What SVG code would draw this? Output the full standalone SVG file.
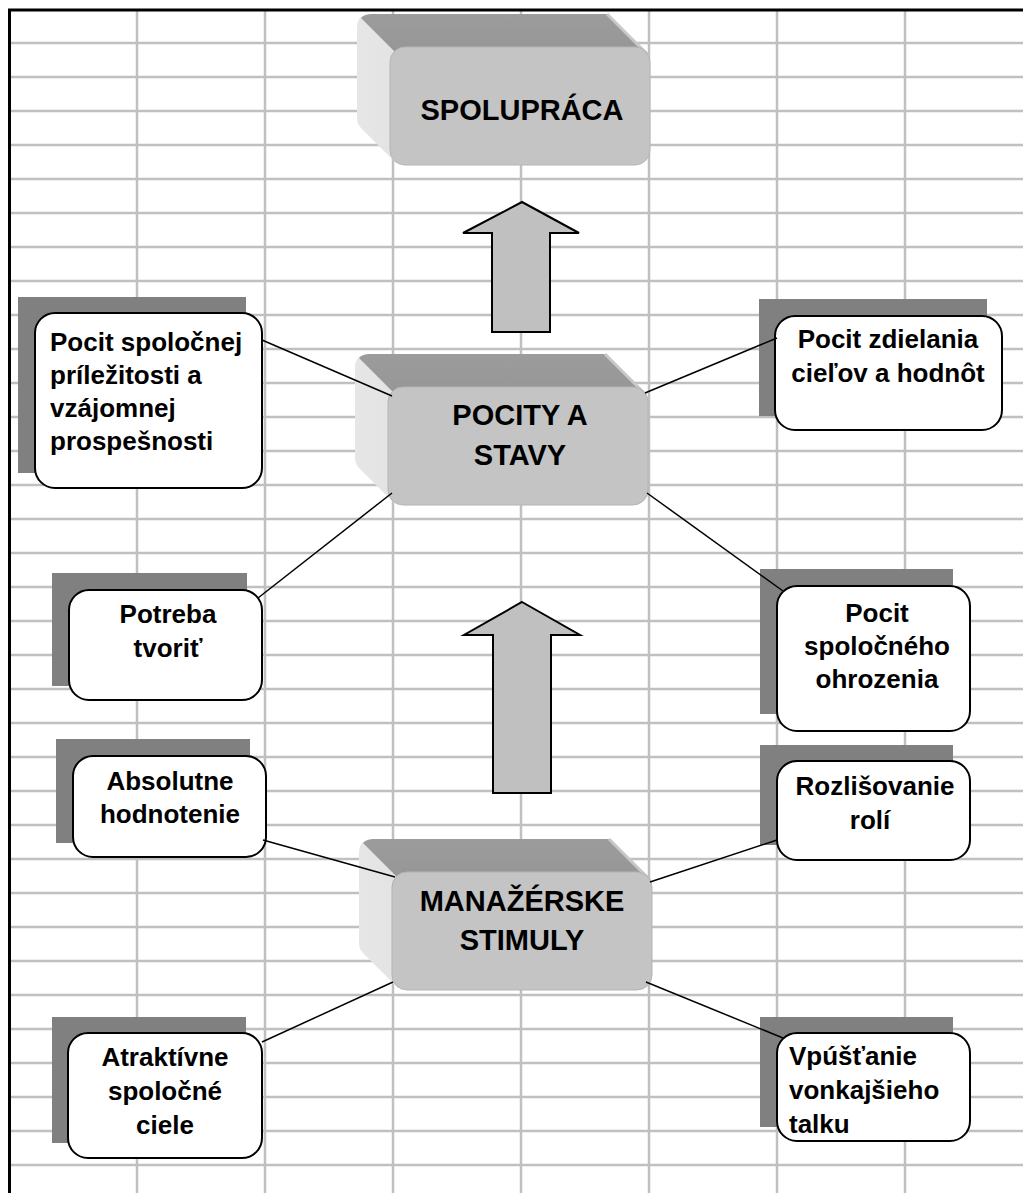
<svg xmlns="http://www.w3.org/2000/svg" xmlns:xlink="http://www.w3.org/1999/xlink" width="1023" height="1193" viewBox="0 0 1023 1193">
  <style>
    .grid line { stroke: #c0c0c0; stroke-width: 2.5; }
    .frame { stroke: #000; stroke-width: 3; fill: none; }
    .title { font-family: "Liberation Sans", Arial, sans-serif; font-weight: bold; font-size: 29px; fill: #000; text-anchor: middle; }
    .label { font-family: "Liberation Sans", Arial, sans-serif; font-weight: bold; font-size: 26px; fill: #000; }
    .mid { text-anchor: middle; }
    .card { fill: #fff; stroke: #000; stroke-width: 2; }
    .shadow { fill: #808080; }
    .link { stroke: #000; stroke-width: 1.5; fill: none; }
    .arrow { fill: #c0c0c0; stroke: #000; stroke-width: 2; stroke-linejoin: miter; }
  </style>
  <defs>
    <linearGradient id="sideGrad" x1="0" y1="0" x2="1" y2="0">
      <stop offset="0" stop-color="#e6e6e6"/>
      <stop offset="0.7" stop-color="#d8d8d8"/>
      <stop offset="1" stop-color="#c8c8c8"/>
    </linearGradient>
    <linearGradient id="topGrad" x1="0" y1="0" x2="0" y2="1">
      <stop offset="0" stop-color="#9c9c9c"/>
      <stop offset="1" stop-color="#969696"/>
    </linearGradient>
    <!-- extruded block: front face 260x118 at origin, depth 33 up-left -->
    <g id="block">
      <path d="M -33,-19 Q -33,-33 -19,-33 L 217,-33 L 258,6 L 258,110 L 6,116 L -29,81 Q -33,77 -33,71 Z" fill="url(#sideGrad)"/>
      <path d="M -29,-29 Q -26,-32.5 -19,-33 L 217,-33 L 256,6 L 6,6 Z" fill="url(#topGrad)"/>
      <path d="M 217,-33 L 258,8" stroke="#c8c8c8" stroke-width="3" fill="none"/>
      <rect x="0" y="0" width="260" height="118" rx="15" fill="#c4c4c4" stroke="#b4b4b4" stroke-width="1"/>
    </g>
  </defs>

  <rect width="1023" height="1193" fill="#fff"/>

  <!-- sheet grid -->
  <g class="grid">
    <line x1="137" y1="10" x2="137" y2="1193"/>
    <line x1="265" y1="10" x2="265" y2="1193"/>
    <line x1="393" y1="10" x2="393" y2="1193"/>
    <line x1="521" y1="10" x2="521" y2="1193"/>
    <line x1="649" y1="10" x2="649" y2="1193"/>
    <line x1="777" y1="10" x2="777" y2="1193"/>
    <line x1="905" y1="10" x2="905" y2="1193"/>
    <line x1="9" y1="43" x2="1023" y2="43"/>
    <line x1="9" y1="77" x2="1023" y2="77"/>
    <line x1="9" y1="111" x2="1023" y2="111"/>
    <line x1="9" y1="145" x2="1023" y2="145"/>
    <line x1="9" y1="179" x2="1023" y2="179"/>
    <line x1="9" y1="213" x2="1023" y2="213"/>
    <line x1="9" y1="247" x2="1023" y2="247"/>
    <line x1="9" y1="281" x2="1023" y2="281"/>
    <line x1="9" y1="315" x2="1023" y2="315"/>
    <line x1="9" y1="349" x2="1023" y2="349"/>
    <line x1="9" y1="383" x2="1023" y2="383"/>
    <line x1="9" y1="417" x2="1023" y2="417"/>
    <line x1="9" y1="451" x2="1023" y2="451"/>
    <line x1="9" y1="485" x2="1023" y2="485"/>
    <line x1="9" y1="519" x2="1023" y2="519"/>
    <line x1="9" y1="553" x2="1023" y2="553"/>
    <line x1="9" y1="587" x2="1023" y2="587"/>
    <line x1="9" y1="621" x2="1023" y2="621"/>
    <line x1="9" y1="655" x2="1023" y2="655"/>
    <line x1="9" y1="689" x2="1023" y2="689"/>
    <line x1="9" y1="723" x2="1023" y2="723"/>
    <line x1="9" y1="757" x2="1023" y2="757"/>
    <line x1="9" y1="791" x2="1023" y2="791"/>
    <line x1="9" y1="825" x2="1023" y2="825"/>
    <line x1="9" y1="859" x2="1023" y2="859"/>
    <line x1="9" y1="893" x2="1023" y2="893"/>
    <line x1="9" y1="927" x2="1023" y2="927"/>
    <line x1="9" y1="961" x2="1023" y2="961"/>
    <line x1="9" y1="995" x2="1023" y2="995"/>
    <line x1="9" y1="1029" x2="1023" y2="1029"/>
    <line x1="9" y1="1063" x2="1023" y2="1063"/>
    <line x1="9" y1="1097" x2="1023" y2="1097"/>
    <line x1="9" y1="1131" x2="1023" y2="1131"/>
    <line x1="9" y1="1165" x2="1023" y2="1165"/>
  </g>
  <path class="frame" d="M 1023,10 L 9.5,10 L 9.5,1193"/>

  <!-- central blocks -->
  <g id="node-spolupraca">
    <use xlink:href="#block" href="#block" x="390" y="47"/>
    <text class="title" x="522" y="120">SPOLUPRÁCA</text>
  </g>
  <g id="node-pocity">
    <use xlink:href="#block" href="#block" x="388" y="387"/>
    <text class="title" x="520" y="425">POCITY A</text>
    <text class="title" x="520" y="465">STAVY</text>
  </g>
  <g id="node-stimuly">
    <use xlink:href="#block" href="#block" x="392" y="872"/>
    <text class="title" x="522" y="911">MANAŽÉRSKE</text>
    <text class="title" x="522" y="950">STIMULY</text>
  </g>

  <!-- side cards -->
  <g id="node-prilezitost">
    <rect class="shadow" x="18" y="297" width="228" height="176"/>
    <rect class="card" x="35" y="313" width="227" height="175" rx="20"/>
    <text class="label" x="50" y="351">Pocit spoločnej</text>
    <text class="label" x="50" y="384">príležitosti a</text>
    <text class="label" x="50" y="417">vzájomnej</text>
    <text class="label" x="50" y="450">prospešnosti</text>
  </g>
  <g id="node-ciele-hodnoty">
    <rect class="shadow" x="759" y="299" width="228" height="117"/>
    <rect class="card" x="775" y="316" width="227" height="114" rx="20"/>
    <text class="label mid" x="888" y="348">Pocit zdielania</text>
    <text class="label mid" x="888" y="382">cieľov a hodnôt</text>
  </g>
  <g id="node-tvorit">
    <rect class="shadow" x="52" y="573" width="195" height="113"/>
    <rect class="card" x="69" y="590" width="193" height="110" rx="20"/>
    <text class="label mid" x="168" y="623">Potreba</text>
    <text class="label mid" x="168" y="657">tvoriť</text>
  </g>
  <g id="node-ohrozenie">
    <rect class="shadow" x="760" y="569" width="193" height="145"/>
    <rect class="card" x="777" y="586" width="193" height="145" rx="20"/>
    <text class="label mid" x="877" y="622">Pocit</text>
    <text class="label mid" x="877" y="655">spoločného</text>
    <text class="label mid" x="877" y="688">ohrozenia</text>
  </g>
  <g id="node-hodnotenie">
    <rect class="shadow" x="56" y="739" width="194" height="104"/>
    <rect class="card" x="73" y="756" width="193" height="101" rx="20"/>
    <text class="label mid" x="170" y="790">Absolutne</text>
    <text class="label mid" x="170" y="823">hodnotenie</text>
  </g>
  <g id="node-role">
    <rect class="shadow" x="760" y="745" width="193" height="100"/>
    <rect class="card" x="777" y="761" width="193" height="99" rx="20"/>
    <text class="label mid" x="875" y="795">Rozlišovanie</text>
    <text class="label mid" x="870" y="829">rolí</text>
  </g>
  <g id="node-spolocne-ciele">
    <rect class="shadow" x="52" y="1017" width="194" height="126"/>
    <rect class="card" x="68" y="1033" width="194" height="125" rx="20"/>
    <text class="label mid" x="165" y="1066">Atraktívne</text>
    <text class="label mid" x="165" y="1100">spoločné</text>
    <text class="label mid" x="165" y="1134">ciele</text>
  </g>
  <g id="node-talk">
    <rect class="shadow" x="760" y="1017" width="193" height="110"/>
    <rect class="card" x="777" y="1033" width="193" height="108" rx="20"/>
    <text class="label" x="789" y="1065">Vpúšťanie</text>
    <text class="label" x="789" y="1099">vonkajšieho</text>
    <text class="label" x="789" y="1133">talku</text>
  </g>

  <!-- connectors -->
  <g id="connectors">
    <polygon class="arrow" points="522,202 579,233 550,233 550,332 492,332 492,233 463,233"/>
    <polygon class="arrow" points="522,602 580,635 551,635 551,793 493,793 493,635 464,635"/>
    <line class="link" x1="262" y1="340" x2="392" y2="396"/>
    <line class="link" x1="645" y1="393" x2="777" y2="338"/>
    <line class="link" x1="392" y1="493" x2="258" y2="598"/>
    <line class="link" x1="647" y1="493" x2="783" y2="591"/>
    <line class="link" x1="263" y1="840" x2="395" y2="877"/>
    <line class="link" x1="650" y1="882" x2="777" y2="840"/>
    <line class="link" x1="393" y1="982" x2="262" y2="1042"/>
    <line class="link" x1="646" y1="982" x2="783" y2="1038"/>
  </g>
</svg>
